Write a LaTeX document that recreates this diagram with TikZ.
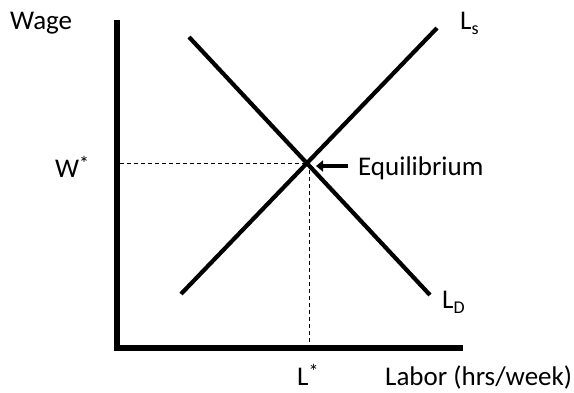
\documentclass[tikz,border=0pt]{standalone}
\usepackage{fontspec}
\setmainfont{Carlito}
\usetikzlibrary{arrows.meta}
\tikzset{
  lbl/.style={inner sep=0pt, anchor=base west, font=\fontsize{27}{31}\selectfont},
  curve/.style={line width=4.2pt, line cap=butt},
  axis/.style={line width=6pt, line join=miter},
  guide/.style={line width=1pt, dash pattern=on 4pt off 3pt},
  pointer/.style={line width=4pt, -{Triangle[length=7pt,width=11pt]}}
}
\newcommand{\supstar}{\raisebox{7pt}{\fontsize{20}{20}\selectfont *}}
\newcommand{\subtxt}[1]{\raisebox{-0.2em}{\fontsize{18}{18}\selectfont #1}}
\begin{document}
\begin{tikzpicture}[x=1pt,y=-1pt]
\useasboundingbox (0,0) rectangle (574,392);
% axes
\coordinate (ytop) at (117,20);
\coordinate (orig) at (117,348);
\coordinate (xend) at (463,348);
\draw[axis] (ytop) -- (orig) -- (xend);
% curves
\coordinate (ls1) at (181,294);
\coordinate (ls2) at (437,28);
\coordinate (ld1) at (189,37);
\coordinate (ld2) at (430,295);
\draw[curve] (ls1) -- (ls2);
\draw[curve] (ld1) -- (ld2);
% equilibrium
\coordinate (eq) at (309,163);
\coordinate (wax) at (120,163);
\coordinate (lax) at (309,346);
\draw[guide] (wax) -- (eq);
\draw[guide] (eq) -- (lax);
% labels
\node[lbl] (wage) at (10,29) {Wage};
\node[lbl] (wstar) at (55,177) {W\supstar};
\node[lbl] (lstar) at (297,385) {L\supstar};
\node[lbl] (labor) at (385,385) {Labor (hrs/week)};
\node[lbl] (lslab) at (460,29) {L\subtxt{s}};
\node[lbl] (ldlab) at (442,308) {L\subtxt{D}};
\node[lbl] (eqlab) at (358,175) {Equilibrium};
\coordinate (arrtail) at (348,166);
\coordinate (arrtip) at (316,166);
\draw[pointer] (arrtail) -- (arrtip);
\end{tikzpicture}
\end{document}
